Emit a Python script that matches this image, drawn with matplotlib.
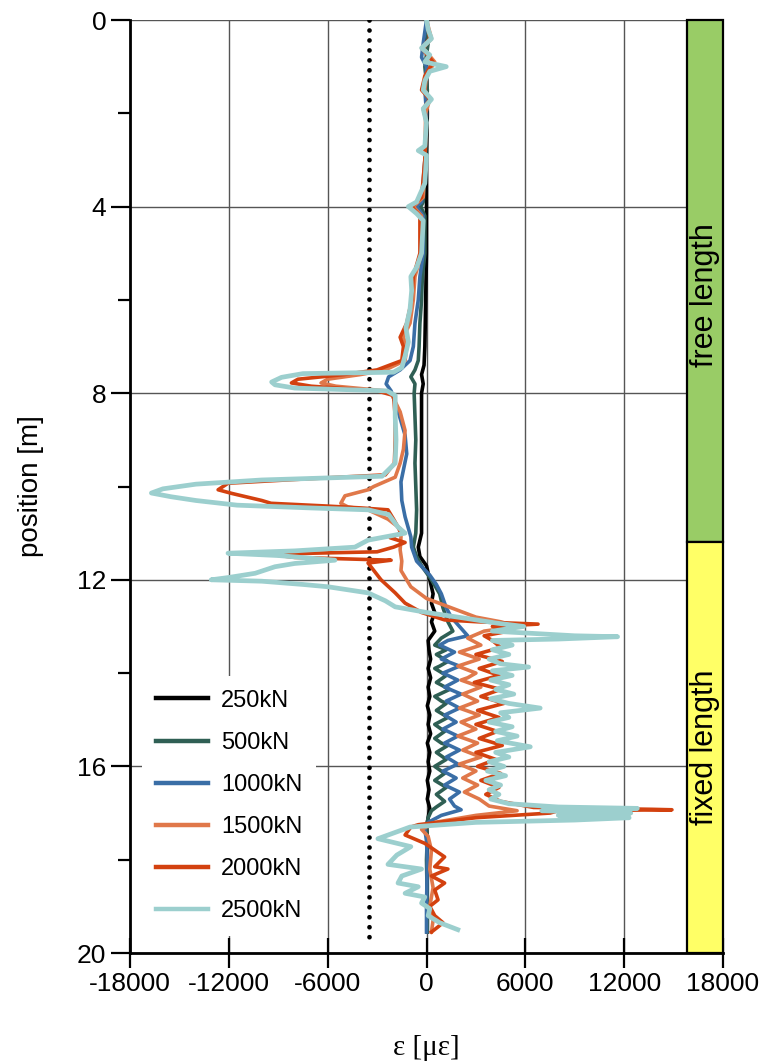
import matplotlib
matplotlib.use('Agg')
import matplotlib.pyplot as plt
from matplotlib.patches import Rectangle

labels = ['250kN', '500kN', '1000kN', '1500kN', '2000kN', '2500kN']
colors = ['#000000', '#2F5F54', '#3A6EA6', '#E0784A', '#D3410F', '#9CCFCE']
widths = [2.6, 2.6, 2.6, 2.6, 2.6, 3.4]

s250 = [(0.0,50),(1.0,0),(2.0,50),(3.0,0),(4.0,0),(5.0,0),(6.0,-50),(7.0,-100),(7.4,-150),(7.6,-300),(7.8,-200),(8.0,-300),(9.0,-300),(10.0,-300),(11.0,-300),(11.3,-500),(11.5,-400),(11.7,0),(12.0,200),(12.3,400),(12.5,300),(12.7,500),(12.9,300),(13.1,500),(13.3,100),(13.5,150),(13.7,250),(13.9,100),(14.1,250),(14.3,100),(14.5,200),(14.7,50),(14.9,200),(15.1,100),(15.3,250),(15.5,50),(15.7,200),(15.9,100),(16.1,200),(16.3,50),(16.5,150),(16.7,50),(16.9,200),(17.1,100),(17.3,0),(17.5,50),(18.0,50),(19.0,50),(19.55,50)]

s500 = [(0.0,0),(0.5,100),(1.0,-100),(1.5,50),(2.0,0),(3.0,-50),(3.9,-200),(4.0,-350),(4.2,-100),(5.0,-100),(5.5,-250),(6.0,-300),(6.5,-400),(7.0,-450),(7.3,-500),(7.5,-700),(7.65,-950),(7.8,-700),(8.0,-750),(8.5,-700),(9.0,-650),(9.5,-700),(10.0,-650),(10.5,-600),(11.0,-650),(11.3,-800),(11.5,-600),(11.7,-300),(12.0,300),(12.3,800),(12.6,1000),(12.9,1300),(13.1,1600),(13.25,900),(13.4,500),(13.5,1200),(13.6,600),(13.75,1300),(13.85,800),(13.9,500),(14.05,1200),(14.2,600),(14.35,1400),(14.5,500),(14.6,900),(14.65,1200),(14.8,600),(14.95,1300),(15.1,500),(15.25,1100),(15.4,500),(15.5,900),(15.55,1300),(15.7,600),(15.85,1200),(16.0,500),(16.15,1100),(16.3,500),(16.45,1200),(16.6,600),(16.75,1100),(16.87,600),(16.95,300),(17.1,100),(17.3,0),(17.5,50),(18.0,0),(19.0,50),(19.55,50)]

s1000 = [(0.0,0),(0.5,-200),(0.8,-300),(1.0,0),(1.5,-100),(2.0,0),(3.0,-100),(3.9,-300),(4.0,-600),(4.2,-200),(5.0,-200),(5.5,-400),(6.0,-500),(6.5,-700),(7.0,-800),(7.3,-1000),(7.5,-1600),(7.65,-2300),(7.8,-2450),(7.95,-2150),(8.3,-1800),(8.9,-1300),(9.3,-1200),(9.9,-1550),(10.3,-1500),(10.65,-1300),(11.08,-950),(11.3,-900),(11.6,-600),(11.9,200),(12.1,600),(12.3,900),(12.6,1200),(12.8,1500),(13.0,2000),(13.2,2500),(13.3,1300),(13.4,800),(13.55,1700),(13.7,900),(13.85,2000),(14.0,1000),(14.15,1900),(14.3,1100),(14.45,2100),(14.6,1200),(14.75,2000),(14.9,1100),(15.05,1800),(15.2,1000),(15.35,1900),(15.5,1100),(15.65,2000),(15.8,1200),(15.95,1900),(16.1,1000),(16.25,1800),(16.4,1100),(16.55,2000),(16.7,1400),(16.85,1700),(16.93,2100),(17.05,900),(17.2,100),(17.35,-100),(17.6,0),(18.0,50),(19.0,0),(19.55,0)]

s1500 = [(0.0,0),(0.4,300),(0.6,-200),(0.9,500),(1.2,0),(1.5,-100),(1.7,200),(2.0,-50),(3.0,-100),(3.8,-200),(4.0,-800),(4.2,-300),(5.0,-300),(5.5,-700),(6.0,-800),(6.5,-1000),(6.8,-1400),(7.0,-1200),(7.3,-1300),(7.5,-2500),(7.6,-4000),(7.7,-6000),(7.78,-6400),(7.85,-5500),(7.95,-2500),(8.0,-2150),(8.4,-1600),(8.8,-1300),(9.2,-1400),(9.5,-1600),(9.8,-1900),(10.0,-3200),(10.07,-3550),(10.2,-4950),(10.36,-5200),(10.44,-4760),(10.5,-3550),(10.7,-2340),(10.9,-1600),(11.08,-1550),(11.36,-1600),(11.6,-1500),(11.8,-1550),(12.15,-950),(12.4,0),(12.6,1500),(12.8,3000),(12.9,4500),(13.0,5500),(13.1,3500),(13.25,2500),(13.4,3300),(13.55,2000),(13.7,3200),(13.85,1900),(14.0,3000),(14.1,2500),(14.15,2100),(14.3,3300),(14.45,2200),(14.6,3100),(14.75,2000),(14.9,3200),(15.05,2100),(15.2,3000),(15.35,1900),(15.5,3100),(15.65,2200),(15.8,3300),(15.95,2000),(16.1,3000),(16.25,2200),(16.4,3100),(16.55,2300),(16.7,3200),(16.85,3800),(16.95,5500),(17.05,3000),(17.2,500),(17.35,-300),(17.5,100),(17.8,300),(18.2,200),(18.6,400),(19.0,200),(19.3,400),(19.55,300)]

s2000 = [(0.0,0),(0.4,200),(0.6,-300),(0.9,400),(1.2,-100),(1.5,-300),(1.7,200),(1.9,-200),(2.2,0),(3.0,-100),(3.8,-300),(4.0,-900),(4.2,-400),(5.0,-400),(5.5,-800),(6.0,-900),(6.5,-1200),(6.8,-1600),(7.0,-1400),(7.3,-1500),(7.5,-3000),(7.6,-5000),(7.7,-7800),(7.78,-8200),(7.85,-7000),(7.95,-3000),(8.05,-2000),(8.5,-1900),(9.0,-1900),(9.5,-1950),(9.75,-2500),(9.85,-8000),(9.93,-12050),(10.07,-12650),(10.15,-11800),(10.3,-10000),(10.36,-9440),(10.42,-6000),(10.46,-3950),(10.5,-2340),(10.7,-2000),(10.87,-1730),(11.0,-1550),(11.1,-2200),(11.2,-1300),(11.3,-2000),(11.4,-3000),(11.45,-9600),(11.52,-8000),(11.58,-2150),(11.64,-3550),(12.0,-2760),(12.28,-1900),(12.5,-1300),(12.7,-300),(12.86,1100),(12.9,3100),(12.95,6770),(13.0,4000),(13.1,5000),(13.2,3500),(13.3,4000),(13.45,4500),(13.6,3000),(13.75,4600),(13.9,3200),(14.05,4400),(14.2,2900),(14.35,4500),(14.5,3300),(14.65,4700),(14.8,3100),(14.95,4400),(15.1,3000),(15.25,4300),(15.4,3200),(15.55,4600),(15.7,3000),(15.85,4200),(16.0,3100),(16.15,4500),(16.3,3300),(16.45,4400),(16.6,3600),(16.75,4500),(16.88,6500),(16.92,13700),(16.93,14900),(16.95,8000),(17.0,7500),(17.1,3000),(17.25,-500),(17.3,-950),(17.47,-1300),(17.65,-100),(17.94,1100),(18.15,500),(18.2,1300),(18.35,300),(18.5,1100),(18.65,500),(18.86,700),(19.0,200),(19.2,500),(19.35,1000),(19.44,700),(19.55,300)]

s2500 = [(0.0,0),(0.2,100),(0.4,300),(0.6,-300),(0.75,200),(0.9,-100),(1.0,1200),(1.1,200),(1.3,-100),(1.5,-200),(1.7,300),(1.9,-200),(2.2,0),(2.7,-100),(2.8,-500),(2.9,0),(3.5,-100),(3.9,-600),(4.0,-1100),(4.15,-600),(4.3,-200),(5.0,-300),(5.3,-600),(5.5,-950),(5.8,-900),(6.2,-1000),(6.6,-1250),(6.9,-1100),(7.2,-1300),(7.45,-1500),(7.55,-2000),(7.58,-7500),(7.66,-8800),(7.76,-9400),(7.82,-9200),(7.89,-8000),(7.95,-2400),(8.05,-1900),(8.5,-1900),(9.0,-1850),(9.5,-1900),(9.78,-2700),(9.86,-10000),(9.95,-14000),(10.05,-16000),(10.14,-16700),(10.22,-15500),(10.3,-14000),(10.4,-11500),(10.46,-7000),(10.5,-3550),(10.6,-2300),(10.87,-1730),(11.0,-1300),(11.15,-3550),(11.3,-4350),(11.38,-8000),(11.43,-12050),(11.48,-9000),(11.58,-5560),(11.65,-8000),(11.72,-9200),(11.86,-10400),(11.95,-12000),(12.0,-13070),(12.03,-10000),(12.1,-7500),(12.15,-5970),(12.28,-3550),(12.45,-2500),(12.58,-1900),(12.7,0),(12.8,1900),(12.93,4300),(13.0,5900),(13.1,4000),(13.2,9000),(13.22,11600),(13.27,8000),(13.3,4000),(13.4,5200),(13.5,4000),(13.6,5000),(13.7,3800),(13.8,4500),(13.87,6200),(13.95,4000),(14.05,5200),(14.15,3900),(14.25,5000),(14.35,4200),(14.45,5300),(14.55,3900),(14.65,5000),(14.75,6900),(14.85,4500),(14.95,5000),(15.05,3800),(15.15,5200),(15.25,4200),(15.35,5500),(15.45,4300),(15.58,6300),(15.7,4200),(15.8,5000),(15.9,3800),(16.0,4700),(16.1,3700),(16.2,4800),(16.3,3600),(16.4,4500),(16.5,3800),(16.6,4400),(16.7,3900),(16.8,5000),(16.87,8000),(16.9,12800),(16.95,7000),(17.0,12400),(17.05,8000),(17.1,12300),(17.15,9000),(17.2,3000),(17.3,-1000),(17.55,-2950),(17.72,-950),(17.9,-1800),(18.1,-2340),(18.2,-300),(18.35,-1500),(18.5,-1730),(18.58,-500),(18.72,-1300),(18.8,-100),(18.93,-300),(19.05,200),(19.2,100),(19.35,800),(19.5,1900)]

series = [s250, s500, s1000, s1500, s2000, s2500]

limit_strain = -3500
free_end = 11.2
zones = [('free length', 0.0, free_end, '#99CC66', 5.9), ('fixed length', free_end, 20.0, '#FFFF66', 15.6)]
xticks = [-18000, -12000, -6000, 0, 6000, 12000, 18000]
yticks = [0, 4, 8, 12, 16, 20]
yminor = [2, 6, 10, 14, 18]

plt.rcParams['font.family'] = ['Liberation Sans', 'DejaVu Sans']
plt.rcParams['axes.unicode_minus'] = False

fig = plt.figure(figsize=(7.67, 10.64), dpi=100)
ax = fig.add_axes([130/767, 1-953/1064, 593/767, 933/1064])
ax.set_xlim(-18000, 18000)
ax.set_ylim(20, 0)

ax.set_xticks(xticks)
ax.set_yticks(yticks)
ax.set_yticks(yminor, minor=True)
ax.grid(True, which='major', color='#555555', lw=1.0, zorder=0)
ax.set_axisbelow(True)

ax.plot([limit_strain, limit_strain], [0, 19.8], color='black', lw=3.4,
        ls=(0, (0.01, 2.1)), dash_capstyle='round', zorder=2)

handles = []
for s, lab, c, w in zip(series, labels, colors, widths):
    d = [p[0] for p in s]
    e = [p[1] for p in s]
    h, = ax.plot(e, d, color=c, lw=w, label=lab, solid_joinstyle='round', zorder=3)
    handles.append(h)

for name, y0, y1, col, yc in zones:
    ax.add_patch(Rectangle((15800, y0), 2200, y1 - y0, facecolor=col,
                           edgecolor='black', lw=1.6, zorder=4, clip_on=False))
    ax.text(16900, yc, name, rotation=90, ha='center', va='center',
            fontsize=22, zorder=5)

for sp in ['top', 'right']:
    ax.spines[sp].set_visible(False)
for sp in ['left', 'bottom']:
    ax.spines[sp].set_linewidth(2.0)
    ax.spines[sp].set_zorder(6)

ax.tick_params(axis='x', direction='inout', length=22, width=1.6, labelsize=19, pad=3)
ax.tick_params(axis='y', which='major', direction='out', length=14, width=1.6, labelsize=19, pad=3)
ax.tick_params(axis='y', which='minor', direction='out', length=9, width=1.6)

ax.set_xlabel('ε [με]', fontsize=21, family=['Liberation Serif', 'DejaVu Serif'], labelpad=28)
ax.set_ylabel('position [m]', fontsize=20, labelpad=24)

leg = ax.legend(handles=handles, loc='upper left', bbox_to_anchor=(0.0, 0.31),
                fontsize=17, handlelength=2.2, handletextpad=0.55, labelspacing=0.85,
                frameon=True, borderpad=0.6)
leg.get_frame().set_edgecolor('none')
leg.get_frame().set_facecolor('white')
leg.get_frame().set_alpha(1.0)
leg.set_zorder(7)
for l in leg.get_lines():
    l.set_linewidth(3.2)

fig.savefig('out.png', dpi=100)
